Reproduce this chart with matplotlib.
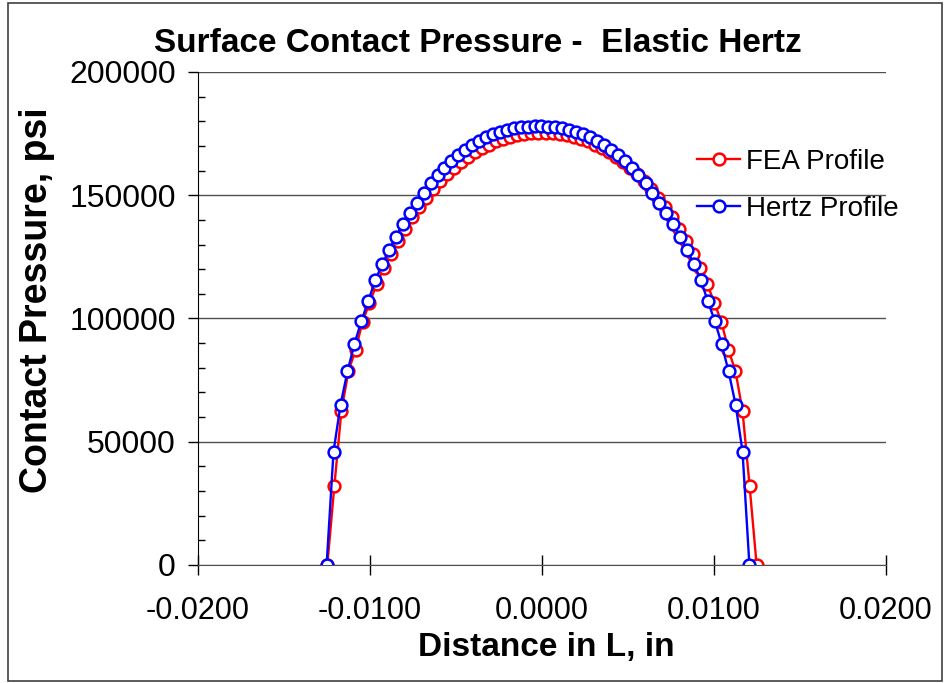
import matplotlib
matplotlib.use("Agg")
import matplotlib.pyplot as plt
from matplotlib.patches import Rectangle
from matplotlib.ticker import MultipleLocator, FormatStrFormatter

plt.rcParams['font.family'] = ['Liberation Sans', 'DejaVu Sans']

# FEA contact pressure profile (psi) vs distance along L (in)
fea_x = [-0.01248, -0.01207, -0.01166, -0.01125, -0.01084, -0.01043, -0.01003, -0.00962,
         -0.00921, -0.00880, -0.00839, -0.00798, -0.00757, -0.00716, -0.00675, -0.00635,
         -0.00594, -0.00553, -0.00512, -0.00471, -0.00430, -0.00389, -0.00348, -0.00307,
         -0.00266, -0.00225, -0.00184, -0.00144, -0.00103, -0.00062, -0.00021, 0.00021,
         0.00062, 0.00103, 0.00144, 0.00184, 0.00225, 0.00266, 0.00307, 0.00348,
         0.00389, 0.00430, 0.00471, 0.00512, 0.00553, 0.00594, 0.00635, 0.00675,
         0.00716, 0.00757, 0.00798, 0.00839, 0.00880, 0.00921, 0.00962, 0.01003,
         0.01043, 0.01084, 0.01125, 0.01166, 0.01207, 0.01248]
fea_p = [0, 32200, 62500, 78700, 87200, 98700, 106200, 113800,
         120300, 126200, 131500, 136500, 141000, 145200, 149000, 152500,
         155600, 158500, 161100, 163400, 165500, 167400, 169100, 170500,
         171800, 172900, 173800, 174400, 174900, 175200, 175300, 175300,
         175200, 174900, 174400, 173800, 172900, 171800, 170500, 169100,
         167400, 165500, 163400, 161100, 158500, 155600, 152500, 149000,
         145200, 141000, 136500, 131500, 126200, 120300, 113800, 106200,
         98700, 87200, 78700, 62500, 32200, 0]

# Hertz analytical profile
hertz_x = [-0.01252, -0.01212, -0.01171, -0.01131, -0.01091, -0.01050, -0.01010, -0.00970,
           -0.00928, -0.00889, -0.00849, -0.00809, -0.00768, -0.00728, -0.00688, -0.00647,
           -0.00607, -0.00567, -0.00527, -0.00486, -0.00446, -0.00406, -0.00365, -0.00325,
           -0.00285, -0.00244, -0.00204, -0.00164, -0.00124, -0.00083, -0.00043, -0.00003,
           0.00037, 0.00078, 0.00118, 0.00158, 0.00199, 0.00239, 0.00279, 0.00320,
           0.00360, 0.00400, 0.00440, 0.00481, 0.00521, 0.00561, 0.00602, 0.00642,
           0.00682, 0.00723, 0.00763, 0.00803, 0.00844, 0.00884, 0.00924, 0.00964,
           0.01005, 0.01045, 0.01085, 0.01126, 0.01166, 0.01206]
hertz_p = [0, 46000, 65000, 78500, 89500, 99000, 107000, 115500,
           122000, 127800, 133200, 138200, 142700, 147000, 151000, 154800,
           158200, 161200, 164000, 166300, 168400, 170300, 172000, 173500,
           174700, 175700, 176500, 177100, 177500, 177800, 178000, 178000,
           177800, 177500, 177100, 176500, 175700, 174700, 173500, 172000,
           170300, 168400, 166300, 164000, 161200, 158200, 154800, 151000,
           147000, 142700, 138200, 133200, 127800, 122000, 115500, 107000,
           99000, 89500, 78500, 65000, 46000, 0]

x_ticks = [-0.02, -0.01, 0.0, 0.01, 0.02]
y_ticks = [0, 50000, 100000, 150000, 200000]

fig = plt.figure(figsize=(9.5, 6.83), dpi=100)
ax = fig.add_axes([0.2084, 0.1728, 0.7242, 0.7218])

ax.plot(fea_x, fea_p, color='red', lw=1.7, marker='o', ms=8.5, mfc='white',
        mec='red', mew=1.8, label='FEA Profile')
ax.plot(hertz_x, hertz_p, color='blue', lw=1.7, marker='o', ms=8.5, mfc='white',
        mec='blue', mew=1.8, label='Hertz Profile')

ax.set_xlim(-0.02, 0.02)
ax.set_ylim(0, 200000)
ax.set_xticks(x_ticks)
ax.set_yticks(y_ticks)
ax.xaxis.set_major_formatter(FormatStrFormatter('%.4f'))
ax.yaxis.set_major_formatter(FormatStrFormatter('%d'))
ax.yaxis.set_minor_locator(MultipleLocator(10000))

ax.yaxis.grid(True, color='#505050', lw=1)
ax.set_axisbelow(True)
for side in ['top', 'right']:
    ax.spines[side].set_visible(False)
ax.spines['bottom'].set_color('#505050')
ax.spines['left'].set_color('black')

ax.tick_params(axis='x', direction='inout', length=14, width=1, labelsize=22, pad=15)
ax.tick_params(axis='y', which='major', direction='out', length=7, width=1, labelsize=23, pad=9)
ax.tick_params(axis='y', which='minor', direction='in', length=5, width=1)

ax.set_xlabel('Distance in L, in', fontsize=24, fontweight='bold')
ax.xaxis.set_label_coords(0.506, -0.136)
ax.set_ylabel('Contact Pressure, psi', fontsize=27, fontweight='bold')
ax.yaxis.set_label_coords(-0.208, 0.5375)

fig.text(0.503, 0.924, 'Surface Contact Pressure -  Elastic Hertz', ha='center',
         va='baseline', fontsize=24, fontweight='bold')

ax.legend(loc='center left', bbox_to_anchor=(0.7337, 0.729), bbox_transform=fig.transFigure,
          frameon=False, fontsize=20, handlelength=1.55, handletextpad=0.2,
          labelspacing=0.75, borderpad=0, borderaxespad=0, numpoints=1)

fig.patches.append(Rectangle((0.0084, 0.003), 0.983, 0.993, transform=fig.transFigure,
                             fill=False, edgecolor='#404040', lw=1.2))

fig.savefig('out.png', dpi=100)
